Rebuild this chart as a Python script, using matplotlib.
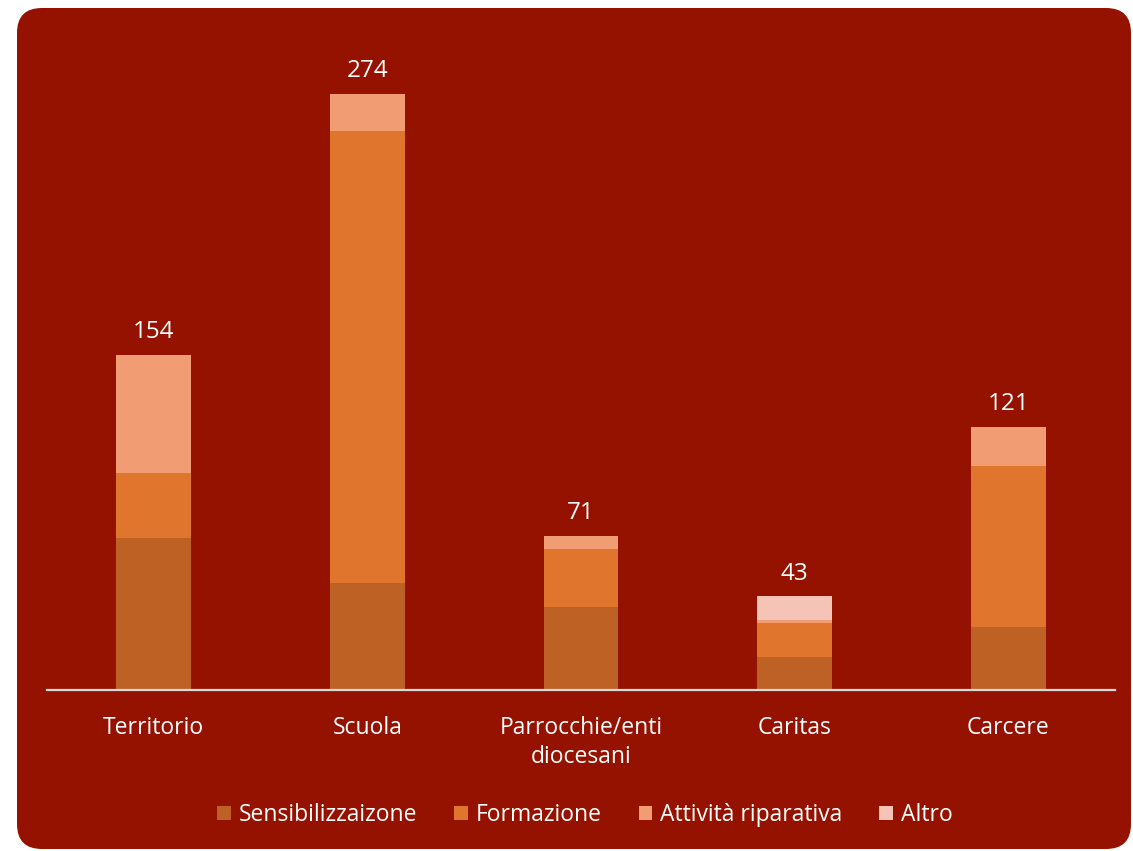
import matplotlib.pyplot as plt
from matplotlib.patches import FancyBboxPatch
import numpy as np

plt.rcParams['font.family'] = ['Open Sans', 'DejaVu Sans']

# ---------- data ----------
categories = ["Territorio", "Scuola", "Parrocchie/enti\ndiocesani", "Caritas", "Carcere"]
series_names = ["Sensibilizzaizone", "Formazione", "Attività riparativa", "Altro"]
sensibilizzazione = [70, 49, 38, 15, 29]
formazione = [30, 208, 27, 16, 74]
attivita = [54, 17, 6, 1, 18]
altro = [0, 0, 0, 11, 0]
totals = [154, 274, 71, 43, 121]

colors = ["#BD6124", "#E0752D", "#F29C74", "#F6C4B6"]
bg = "#951200"

W, H = 1133, 851
fig = plt.figure(figsize=(W / 100, H / 100), dpi=100)
fig.patch.set_facecolor("white")

# rounded red panel behind everything
panel = FancyBboxPatch((17 / W, 1 - 849 / H), (1131 - 17) / W, (849 - 8) / H,
                       boxstyle="round,pad=0,rounding_size=0.022",
                       transform=fig.transFigure, facecolor=bg, edgecolor="none",
                       mutation_aspect=W / H, zorder=-5)
fig.patches.append(panel)

ax = fig.add_axes([47 / W, 1 - 690 / H, 1068 / W, 650 / H])
ax.set_facecolor("none")
ax.set_zorder(1)

x = np.arange(len(categories))
bottom = np.zeros(len(categories))
for vals, name, c in zip([sensibilizzazione, formazione, attivita, altro], series_names, colors):
    ax.bar(x, vals, width=0.35, bottom=bottom, color=c, label=name, zorder=2)
    bottom += np.array(vals)

for xi, t in zip(x, totals):
    ax.text(xi, t + 5, str(t), ha="center", va="bottom", color="white", fontsize=17.5)

ax.set_xlim(-0.5, 4.5)
ax.set_ylim(0, 650 / 2.175)
ax.set_yticks([])
ax.set_xticks(x)
ax.set_xticklabels(categories, color="white", fontsize=16.5, linespacing=1.25)
ax.tick_params(axis="x", length=0, pad=19)
for s in ["top", "right", "left"]:
    ax.spines[s].set_visible(False)
ax.spines["bottom"].set_color("#D9D9D9")
ax.spines["bottom"].set_linewidth(1.6)

leg = fig.legend(loc="center", bbox_to_anchor=(585 / W, 1 - 815 / H), ncol=4,
                 frameon=False, fontsize=16.5, handlelength=0.6, handleheight=0.6,
                 handletextpad=0.35, columnspacing=1.6)
leg.set_zorder(2)
for t in leg.get_texts():
    t.set_color("white")

fig.savefig("out.png", dpi=100, facecolor=fig.get_facecolor())
